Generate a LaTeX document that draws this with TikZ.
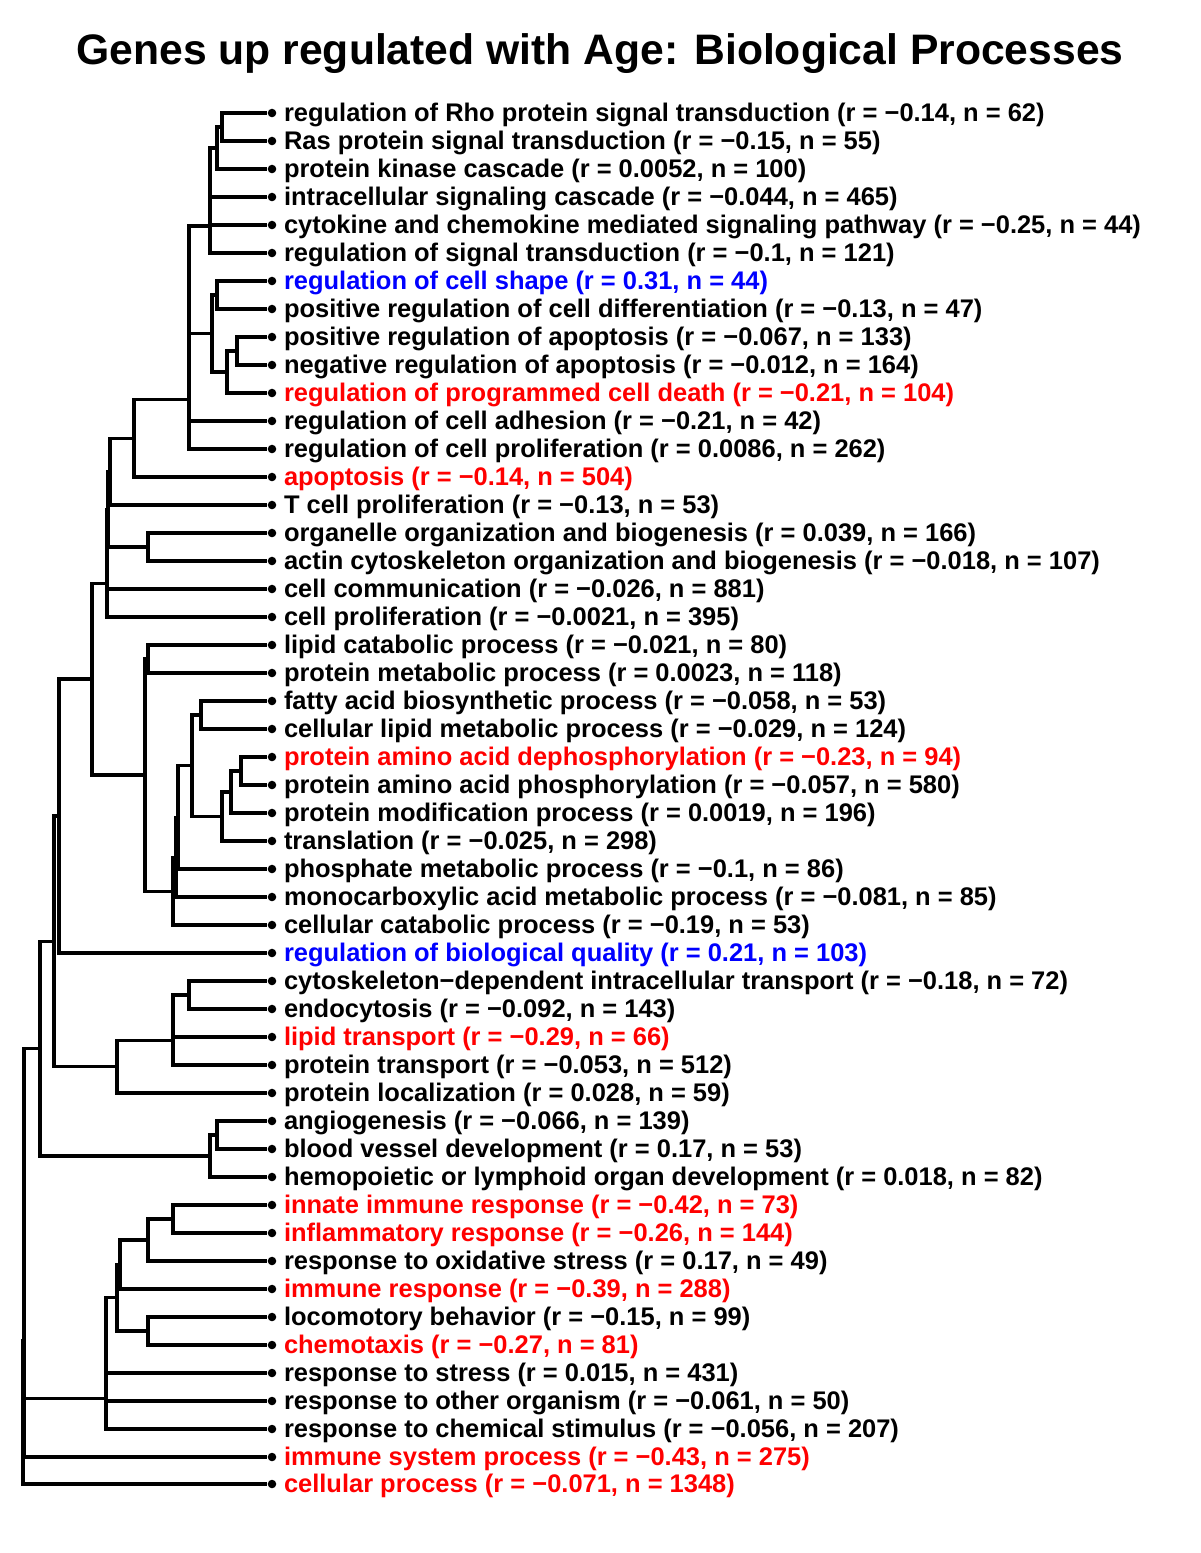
\documentclass[tikz,border=0pt]{standalone}
\usepackage{fontspec}
\setmainfont{Liberation Sans}
\usetikzlibrary{positioning}

\begin{document}
\begin{tikzpicture}[x=0.75pt,y=-0.75pt,
  lf/.style={circle,fill=black,inner sep=0pt,minimum size=6.4pt},
  lab/.style={anchor=base west,inner sep=0pt,font=\fontsize{19.1}{20}\selectfont\bfseries},
  br/.style={line width=2.4pt,line join=miter}]
\useasboundingbox (0,0) rectangle (1200,1553);
\node[anchor=base,font=\fontsize{32}{36}\selectfont\bfseries] (title) at (600,64) {Genes up regulated with Age: Biological Processes};
% leaves
\node[lf] (l1) at (272,113) {};  \node[lab] (t1) at ([shift={(5.4pt,-6.5pt)}]l1.east) {regulation of Rho protein signal transduction (r = −0.14, n = 62)};
\node[lf] (l2) at (272,141) {};  \node[lab] (t2) at ([shift={(5.4pt,-6.5pt)}]l2.east) {Ras protein signal transduction (r = −0.15, n = 55)};
\node[lf] (l3) at (272,169) {};  \node[lab] (t3) at ([shift={(5.4pt,-6.5pt)}]l3.east) {protein kinase cascade (r = 0.0052, n = 100)};
\node[lf] (l4) at (272,197) {};  \node[lab] (t4) at ([shift={(5.4pt,-6.5pt)}]l4.east) {intracellular signaling cascade (r = −0.044, n = 465)};
\node[lf] (l5) at (272,225) {};  \node[lab] (t5) at ([shift={(5.4pt,-6.5pt)}]l5.east) {cytokine and chemokine mediated signaling pathway (r = −0.25, n = 44)};
\node[lf] (l6) at (272,253) {};  \node[lab] (t6) at ([shift={(5.4pt,-6.5pt)}]l6.east) {regulation of signal transduction (r = −0.1, n = 121)};
\node[lf] (l7) at (272,281) {};  \node[lab,blue] (t7) at ([shift={(5.4pt,-6.5pt)}]l7.east) {regulation of cell shape (r = 0.31, n = 44)};
\node[lf] (l8) at (272,309) {};  \node[lab] (t8) at ([shift={(5.4pt,-6.5pt)}]l8.east) {positive regulation of cell differentiation (r = −0.13, n = 47)};
\node[lf] (l9) at (272,337) {};  \node[lab] (t9) at ([shift={(5.4pt,-6.5pt)}]l9.east) {positive regulation of apoptosis (r = −0.067, n = 133)};
\node[lf] (l10) at (272,365) {}; \node[lab] (t10) at ([shift={(5.4pt,-6.5pt)}]l10.east) {negative regulation of apoptosis (r = −0.012, n = 164)};
\node[lf] (l11) at (272,393) {}; \node[lab,red] (t11) at ([shift={(5.4pt,-6.5pt)}]l11.east) {regulation of programmed cell death (r = −0.21, n = 104)};
\node[lf] (l12) at (272,421) {}; \node[lab] (t12) at ([shift={(5.4pt,-6.5pt)}]l12.east) {regulation of cell adhesion (r = −0.21, n = 42)};
\node[lf] (l13) at (272,449) {}; \node[lab] (t13) at ([shift={(5.4pt,-6.5pt)}]l13.east) {regulation of cell proliferation (r = 0.0086, n = 262)};
\node[lf] (l14) at (272,477) {}; \node[lab,red] (t14) at ([shift={(5.4pt,-6.5pt)}]l14.east) {apoptosis (r = −0.14, n = 504)};
\node[lf] (l15) at (272,505) {}; \node[lab] (t15) at ([shift={(5.4pt,-6.5pt)}]l15.east) {T cell proliferation (r = −0.13, n = 53)};
\node[lf] (l16) at (272,533) {}; \node[lab] (t16) at ([shift={(5.4pt,-6.5pt)}]l16.east) {organelle organization and biogenesis (r = 0.039, n = 166)};
\node[lf] (l17) at (272,561) {}; \node[lab] (t17) at ([shift={(5.4pt,-6.5pt)}]l17.east) {actin cytoskeleton organization and biogenesis (r = −0.018, n = 107)};
\node[lf] (l18) at (272,589) {}; \node[lab] (t18) at ([shift={(5.4pt,-6.5pt)}]l18.east) {cell communication (r = −0.026, n = 881)};
\node[lf] (l19) at (272,617) {}; \node[lab] (t19) at ([shift={(5.4pt,-6.5pt)}]l19.east) {cell proliferation (r = −0.0021, n = 395)};
\node[lf] (l20) at (272,645) {}; \node[lab] (t20) at ([shift={(5.4pt,-6.5pt)}]l20.east) {lipid catabolic process (r = −0.021, n = 80)};
\node[lf] (l21) at (272,673) {}; \node[lab] (t21) at ([shift={(5.4pt,-6.5pt)}]l21.east) {protein metabolic process (r = 0.0023, n = 118)};
\node[lf] (l22) at (272,701) {}; \node[lab] (t22) at ([shift={(5.4pt,-6.5pt)}]l22.east) {fatty acid biosynthetic process (r = −0.058, n = 53)};
\node[lf] (l23) at (272,729) {}; \node[lab] (t23) at ([shift={(5.4pt,-6.5pt)}]l23.east) {cellular lipid metabolic process (r = −0.029, n = 124)};
\node[lf] (l24) at (272,757) {}; \node[lab,red] (t24) at ([shift={(5.4pt,-6.5pt)}]l24.east) {protein amino acid dephosphorylation (r = −0.23, n = 94)};
\node[lf] (l25) at (272,785) {}; \node[lab] (t25) at ([shift={(5.4pt,-6.5pt)}]l25.east) {protein amino acid phosphorylation (r = −0.057, n = 580)};
\node[lf] (l26) at (272,813) {}; \node[lab] (t26) at ([shift={(5.4pt,-6.5pt)}]l26.east) {protein modification process (r = 0.0019, n = 196)};
\node[lf] (l27) at (272,841) {}; \node[lab] (t27) at ([shift={(5.4pt,-6.5pt)}]l27.east) {translation (r = −0.025, n = 298)};
\node[lf] (l28) at (272,869) {}; \node[lab] (t28) at ([shift={(5.4pt,-6.5pt)}]l28.east) {phosphate metabolic process (r = −0.1, n = 86)};
\node[lf] (l29) at (272,897) {}; \node[lab] (t29) at ([shift={(5.4pt,-6.5pt)}]l29.east) {monocarboxylic acid metabolic process (r = −0.081, n = 85)};
\node[lf] (l30) at (272,925) {}; \node[lab] (t30) at ([shift={(5.4pt,-6.5pt)}]l30.east) {cellular catabolic process (r = −0.19, n = 53)};
\node[lf] (l31) at (272,953) {}; \node[lab,blue] (t31) at ([shift={(5.4pt,-6.5pt)}]l31.east) {regulation of biological quality (r = 0.21, n = 103)};
\node[lf] (l32) at (272,981) {}; \node[lab] (t32) at ([shift={(5.4pt,-6.5pt)}]l32.east) {cytoskeleton−dependent intracellular transport (r = −0.18, n = 72)};
\node[lf] (l33) at (272,1009) {}; \node[lab] (t33) at ([shift={(5.4pt,-6.5pt)}]l33.east) {endocytosis (r = −0.092, n = 143)};
\node[lf] (l34) at (272,1037) {}; \node[lab,red] (t34) at ([shift={(5.4pt,-6.5pt)}]l34.east) {lipid transport (r = −0.29, n = 66)};
\node[lf] (l35) at (272,1065) {}; \node[lab] (t35) at ([shift={(5.4pt,-6.5pt)}]l35.east) {protein transport (r = −0.053, n = 512)};
\node[lf] (l36) at (272,1093) {}; \node[lab] (t36) at ([shift={(5.4pt,-6.5pt)}]l36.east) {protein localization (r = 0.028, n = 59)};
\node[lf] (l37) at (272,1121) {}; \node[lab] (t37) at ([shift={(5.4pt,-6.5pt)}]l37.east) {angiogenesis (r = −0.066, n = 139)};
\node[lf] (l38) at (272,1149) {}; \node[lab] (t38) at ([shift={(5.4pt,-6.5pt)}]l38.east) {blood vessel development (r = 0.17, n = 53)};
\node[lf] (l39) at (272,1177) {}; \node[lab] (t39) at ([shift={(5.4pt,-6.5pt)}]l39.east) {hemopoietic or lymphoid organ development (r = 0.018, n = 82)};
\node[lf] (l40) at (272,1205) {}; \node[lab,red] (t40) at ([shift={(5.4pt,-6.5pt)}]l40.east) {innate immune response (r = −0.42, n = 73)};
\node[lf] (l41) at (272,1233) {}; \node[lab,red] (t41) at ([shift={(5.4pt,-6.5pt)}]l41.east) {inflammatory response (r = −0.26, n = 144)};
\node[lf] (l42) at (272,1261) {}; \node[lab] (t42) at ([shift={(5.4pt,-6.5pt)}]l42.east) {response to oxidative stress (r = 0.17, n = 49)};
\node[lf] (l43) at (272,1289) {}; \node[lab,red] (t43) at ([shift={(5.4pt,-6.5pt)}]l43.east) {immune response (r = −0.39, n = 288)};
\node[lf] (l44) at (272,1317) {}; \node[lab] (t44) at ([shift={(5.4pt,-6.5pt)}]l44.east) {locomotory behavior (r = −0.15, n = 99)};
\node[lf] (l45) at (272,1345) {}; \node[lab,red] (t45) at ([shift={(5.4pt,-6.5pt)}]l45.east) {chemotaxis (r = −0.27, n = 81)};
\node[lf] (l46) at (272,1373) {}; \node[lab] (t46) at ([shift={(5.4pt,-6.5pt)}]l46.east) {response to stress (r = 0.015, n = 431)};
\node[lf] (l47) at (272,1401) {}; \node[lab] (t47) at ([shift={(5.4pt,-6.5pt)}]l47.east) {response to other organism (r = −0.061, n = 50)};
\node[lf] (l48) at (272,1429) {}; \node[lab] (t48) at ([shift={(5.4pt,-6.5pt)}]l48.east) {response to chemical stimulus (r = −0.056, n = 207)};
\node[lf] (l49) at (272,1457) {}; \node[lab,red] (t49) at ([shift={(5.4pt,-6.5pt)}]l49.east) {immune system process (r = −0.43, n = 275)};
\node[lf] (l50) at (272,1484) {}; \node[lab,red] (t50) at ([shift={(5.4pt,-6.5pt)}]l50.east) {cellular process (r = −0.071, n = 1348)};
% merge points
\coordinate (cA) at (222,127);     \coordinate (cB) at (217,148);
\coordinate (cC1) at (210,172.5);  \coordinate (cC2) at (210,198.8);  \coordinate (cC3) at (210,225.9);
\coordinate (cE1) at (217,295);    \coordinate (cE3) at (237,351);    \coordinate (cE2) at (227,372);
\coordinate (cE) at (212,333.5);
\coordinate (cD1) at (189,279.7);  \coordinate (cD2) at (189,350.3);  \coordinate (cD3) at (189,399.7);
\coordinate (cF) at (134,438.3);   \coordinate (cG) at (110,471.7);   \coordinate (cH) at (148,547);
\coordinate (cG1) at (108,509.3);  \coordinate (cG2) at (107,549.2);  \coordinate (cG3) at (107,583.1);
\coordinate (cK) at (148,659);     \coordinate (cO) at (201,715);     \coordinate (cR) at (241,771);
\coordinate (cQ) at (231,792);     \coordinate (cP) at (222,816.5);   \coordinate (cN) at (192,765.8);
\coordinate (cM1) at (178,817.4);  \coordinate (cM2) at (176,857.2);  \coordinate (cL) at (173,891.1);
\coordinate (cJ) at (145,775);     \coordinate (cI) at (92,679);      \coordinate (cS) at (59,816);
\coordinate (cW) at (189,995);     \coordinate (cV1) at (173,1016);   \coordinate (cV2) at (173,1040.5);
\coordinate (cU) at (117,1066.8);  \coordinate (cT) at (54,941.4);
\coordinate (cZ) at (217,1135);    \coordinate (cY) at (210,1156);    \coordinate (cX) at (40,1048.7);
\coordinate (cAF) at (173,1219);   \coordinate (cAE) at (148,1240);   \coordinate (cAC) at (120,1264.5);
\coordinate (cAD) at (148,1331);   \coordinate (cAB) at (117,1297.8);
\coordinate (cAA1) at (106,1335.4); \coordinate (cAA2) at (106,1368.2); \coordinate (cAA3) at (106,1398.6);
\coordinate (root1) at (24,1223.6); \coordinate (root2) at (24,1340.3); \coordinate (root3) at (23,1412);
% signalling branch
\draw[br] (cA) |- (l1);  \draw[br] (cA) |- (l2);
\draw[br] (cB) |- (cA);  \draw[br] (cB) |- (l3);
\draw[br] (cC1) |- (cB); \draw[br] (cC1) |- (l4);
\draw[br] (cC2) |- (cC1); \draw[br] (cC2) |- (l5);
\draw[br] (cC3) |- (cC2); \draw[br] (cC3) |- (l6);
\draw[br] (cE1) |- (l7); \draw[br] (cE1) |- (l8);
\draw[br] (cE3) |- (l9); \draw[br] (cE3) |- (l10);
\draw[br] (cE2) |- (cE3); \draw[br] (cE2) |- (l11);
\draw[br] (cE) |- (cE1); \draw[br] (cE) |- (cE2);
\draw[br] (cD1) |- (cC3); \draw[br] (cD1) |- (cE);
\draw[br] (cD2) |- (cD1); \draw[br] (cD2) |- (l12);
\draw[br] (cD3) |- (cD2); \draw[br] (cD3) |- (l13);
\draw[br] (cF) |- (cD3); \draw[br] (cF) |- (l14);
\draw[br] (cG) |- (cF);  \draw[br] (cG) |- (l15);
\draw[br] (cH) |- (l16); \draw[br] (cH) |- (l17);
\draw[br] (cG1) |- (cG); \draw[br] (cG1) |- (cH);
\draw[br] (cG2) |- (cG1); \draw[br] (cG2) |- (l18);
\draw[br] (cG3) |- (cG2); \draw[br] (cG3) |- (l19);
% metabolic branch
\draw[br] (cK) |- (l20); \draw[br] (cK) |- (l21);
\draw[br] (cO) |- (l22); \draw[br] (cO) |- (l23);
\draw[br] (cR) |- (l24); \draw[br] (cR) |- (l25);
\draw[br] (cQ) |- (cR);  \draw[br] (cQ) |- (l26);
\draw[br] (cP) |- (cQ);  \draw[br] (cP) |- (l27);
\draw[br] (cN) |- (cO);  \draw[br] (cN) |- (cP);
\draw[br] (cM1) |- (cN); \draw[br] (cM1) |- (l28);
\draw[br] (cM2) |- (cM1); \draw[br] (cM2) |- (l29);
\draw[br] (cL) |- (cM2); \draw[br] (cL) |- (l30);
\draw[br] (cJ) |- (cK);  \draw[br] (cJ) |- (cL);
\draw[br] (cI) |- (cG3); \draw[br] (cI) |- (cJ);
\draw[br] (cS) |- (cI);  \draw[br] (cS) |- (l31);
% transport branch
\draw[br] (cW) |- (l32); \draw[br] (cW) |- (l33);
\draw[br] (cV1) |- (cW); \draw[br] (cV1) |- (l34);
\draw[br] (cV2) |- (cV1); \draw[br] (cV2) |- (l35);
\draw[br] (cU) |- (cV2); \draw[br] (cU) |- (l36);
\draw[br] (cT) |- (cS);  \draw[br] (cT) |- (cU);
\draw[br] (cZ) |- (l37); \draw[br] (cZ) |- (l38);
\draw[br] (cY) |- (cZ);  \draw[br] (cY) |- (l39);
\draw[br] (cX) |- (cT);  \draw[br] (cX) |- (cY);
% immune branch
\draw[br] (cAF) |- (l40); \draw[br] (cAF) |- (l41);
\draw[br] (cAE) |- (cAF); \draw[br] (cAE) |- (l42);
\draw[br] (cAC) |- (cAE); \draw[br] (cAC) |- (l43);
\draw[br] (cAD) |- (l44); \draw[br] (cAD) |- (l45);
\draw[br] (cAB) |- (cAC); \draw[br] (cAB) |- (cAD);
\draw[br] (cAA1) |- (cAB); \draw[br] (cAA1) |- (l46);
\draw[br] (cAA2) |- (cAA1); \draw[br] (cAA2) |- (l47);
\draw[br] (cAA3) |- (cAA2); \draw[br] (cAA3) |- (l48);
% root
\draw[br] (root1) |- (cX); \draw[br] (root1) |- (cAA3);
\draw[br] (root2) |- (root1); \draw[br] (root2) |- (l49);
\draw[br] (root3) |- (root2); \draw[br] (root3) |- (l50);
\end{tikzpicture}
\end{document}
